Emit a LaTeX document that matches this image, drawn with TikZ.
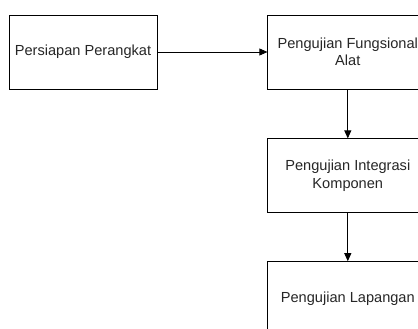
\documentclass[tikz,border=0pt]{standalone}
\usepackage{fontspec}
\setmainfont{Liberation Sans}
\usepackage{tikz}
\usetikzlibrary{positioning}
\usetikzlibrary{arrows.meta}
\tikzstyle{stage} = [rectangle, draw, thick, text centered, align=center, minimum width=160pt, minimum height=74pt, inner sep=0pt, text=black!85, font=\fontsize{14.6pt}{17.5pt}\selectfont]
\tikzstyle{flow} = [draw, thick, -{Triangle[length=8pt, width=7pt]}]

\begin{document}
\begin{tikzpicture}[auto]
	\clip (0,0) rectangle (418pt,-329pt);
	% place nodes
	\node [stage, minimum width=148pt] at (83pt,-52pt) (N1) {Persiapan Perangkat};
	\node [stage, right=110pt of N1]                   (N2) {Pengujian Fungsional\\Alat};
	\node [stage, below=49pt of N2]                    (N3) {Pengujian Integrasi\\Komponen};
	\node [stage, below=48pt of N3]                    (N4) {Pengujian Lapangan};

	% draw edges
	\path [flow] (N1) -- (N2);
	\path [flow] (N2) -- (N3);
	\path [flow] (N3) -- (N4);
\end{tikzpicture}
\end{document}
